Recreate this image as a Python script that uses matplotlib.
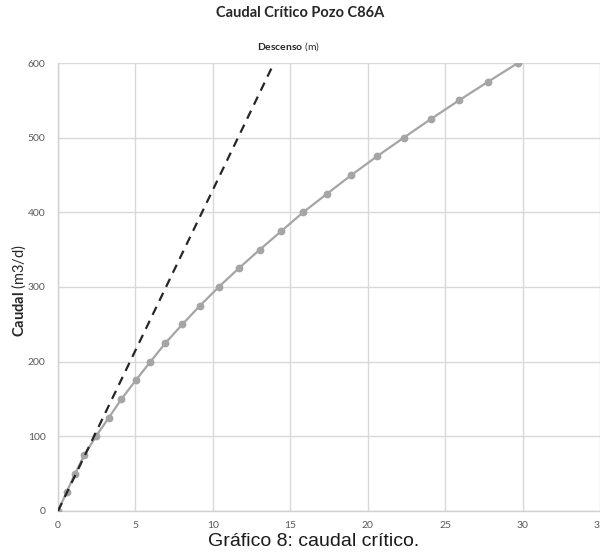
import matplotlib.pyplot as plt

# Caudal vs descenso data
descenso = [0, 0.55, 1.1, 1.7, 2.45, 3.28, 4.1, 5.02, 5.97, 6.94, 8.03, 9.17,
            10.38, 11.67, 13.03, 14.43, 15.83, 17.38, 18.95, 20.6, 22.33,
            24.08, 25.9, 27.78, 29.7]
caudal = [0, 25, 50, 75, 100, 125, 150, 175, 200, 225, 250, 275, 300, 325,
          350, 375, 400, 425, 450, 475, 500, 525, 550, 575, 600]

# Dashed reference line (linear regime)
linea_x = [0, 13.95]
linea_y = [0, 600]

x_ticks = [0, 5, 10, 15, 20, 25, 30, 35]
x_labels = ['0', '5', '10', '15', '20', '25', '30', '35']
y_ticks = [0, 100, 200, 300, 400, 500, 600]

plt.rcParams['font.family'] = ['Lato', 'DejaVu Sans']
plt.rcParams['mathtext.fontset'] = 'custom'
plt.rcParams['mathtext.rm'] = 'Lato'
plt.rcParams['mathtext.bf'] = 'Lato:bold'

fig = plt.figure(figsize=(6.0, 5.55), dpi=100)
ax = fig.add_axes([58 / 600, 44 / 555, 542 / 600, 448 / 555])

ax.plot(descenso, caudal, color='#a5a5a5', linewidth=1.6, marker='o',
        markersize=4.6, markerfacecolor='#a5a5a5', markeredgecolor='#a5a5a5',
        zorder=3)
ax.plot(linea_x, linea_y, color='#262626', linewidth=1.6, linestyle=(0, (4, 3)),
        zorder=4)

ax.set_xlim(0, 35)
ax.set_ylim(0, 600)
ax.set_xticks(x_ticks)
ax.set_xticklabels(x_labels)
ax.set_yticks(y_ticks)
ax.grid(True, color='#d9d9d9', linewidth=1.0)
ax.set_axisbelow(True)

for s in ['top', 'right']:
    ax.spines[s].set_visible(False)
for s in ['left', 'bottom']:
    ax.spines[s].set_color('#d0d0d0')
    ax.spines[s].set_linewidth(1.0)

ax.tick_params(length=0, labelsize=7.5, labelcolor='#595959')
ax.tick_params(axis='y', pad=9)
ax.tick_params(axis='x', pad=7)

fig.text(300 / 600, 1 - 13 / 555, 'Caudal Crítico Pozo C86A', ha='center',
         va='center', fontsize=10.5, fontweight='bold', color='#262626')
fig.text(289 / 600, 1 - 47 / 555, r'$\mathbf{Descenso}$ (m)', ha='center',
         va='center', fontsize=7.5, color='#262626')
fig.text(19 / 600, 1 - 291 / 555, r'$\mathbf{Caudal}$ (m3/d)', ha='center',
         va='center', rotation=90, fontsize=10.5, color='#262626')
fig.text(314 / 600, 1 - 542 / 555, 'Gráfico 8: caudal crítico.', ha='center',
         va='center', fontsize=14, color='#1a1a1a', family='Liberation Sans')

fig.savefig('out.png', dpi=100)
